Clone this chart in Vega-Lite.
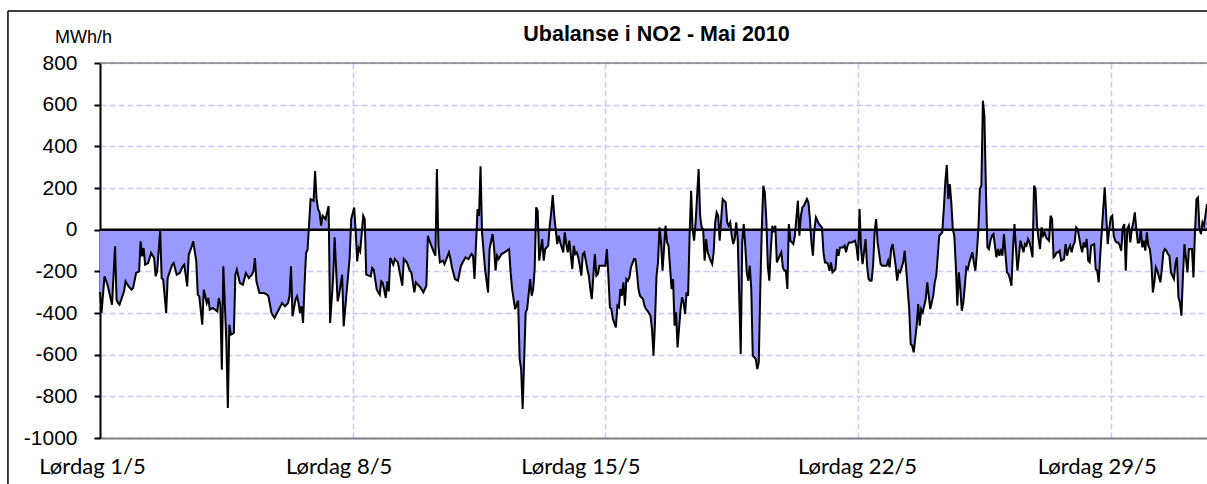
{
"$schema": "https://vega.github.io/schema/vega-lite/v6.json",
"width": 1107,
"height": 375,
"autosize": {"type": "none"},
"padding": {"left": 100, "top": 63, "right": 0, "bottom": 46},
"background": "white",
"config": {"view": {"stroke": null}},
"title": {"text": "Ubalanse i NO2  - Mai 2010", "font": "Liberation Sans", "fontSize": 21.5, "fontWeight": "bold", "color": "black", "anchor": "middle", "frame": "group", "baseline": "middle", "offset": 26, "dy": 72, "dx": 3},
"data": {"values": [
{"h":0,"v":-300},{"h":1,"v":-400},{"h":3,"v":-224},{"h":5,"v":-264},{"h":8,"v":-360},{"h":10,"v":-80},{"h":11,"v":-336},{"h":12,"v":-352},{"h":13,"v":-360},{"h":16,"v":-296},{"h":17,"v":-248},{"h":19,"v":-272},{"h":21,"v":-288},{"h":22,"v":-280},{"h":24,"v":-208},{"h":26,"v":-200},{"h":27,"v":-56},{"h":28,"v":-128},{"h":29,"v":-88},{"h":30,"v":-168},{"h":32,"v":-160},{"h":34,"v":-112},{"h":36,"v":-136},{"h":37,"v":-224},{"h":38,"v":-200},{"h":40,"v":-5},{"h":41,"v":-232},{"h":42,"v":-240},{"h":44,"v":-400},{"h":45,"v":-232},{"h":48,"v":-168},{"h":49,"v":-160},{"h":51,"v":-216},{"h":53,"v":-208},{"h":55,"v":-176},{"h":56,"v":-168},{"h":58,"v":-272},{"h":59,"v":-120},{"h":61,"v":-80},{"h":62,"v":-56},{"h":64,"v":-152},{"h":65,"v":-312},{"h":66,"v":-320},{"h":68,"v":-456},{"h":69,"v":-288},{"h":71,"v":-352},{"h":72,"v":-328},{"h":73,"v":-384},{"h":75,"v":-376},{"h":78,"v":-392},{"h":79,"v":-328},{"h":80,"v":-360},{"h":81,"v":-672},{"h":82,"v":-176},{"h":84,"v":-536},{"h":85,"v":-856},{"h":86,"v":-456},{"h":87,"v":-504},{"h":89,"v":-496},{"h":90,"v":-216},{"h":91,"v":-192},{"h":93,"v":-256},{"h":95,"v":-264},{"h":97,"v":-208},{"h":99,"v":-232},{"h":101,"v":-216},{"h":102,"v":-200},{"h":103,"v":-136},{"h":104,"v":-248},{"h":106,"v":-304},{"h":109,"v":-304},{"h":111,"v":-312},{"h":112,"v":-320},{"h":114,"v":-400},{"h":116,"v":-424},{"h":120,"v":-368},{"h":121,"v":-352},{"h":123,"v":-368},{"h":125,"v":-352},{"h":126,"v":-320},{"h":127,"v":-176},{"h":128,"v":-416},{"h":130,"v":-336},{"h":131,"v":-320},{"h":132,"v":-352},{"h":133,"v":-400},{"h":134,"v":-368},{"h":135,"v":-448},{"h":136,"v":-264},{"h":137,"v":-112},{"h":138,"v":-96},{"h":140,"v":146},{"h":142,"v":138},{"h":143,"v":281},{"h":144,"v":146},{"h":145,"v":98},{"h":146,"v":83},{"h":147,"v":19},{"h":148,"v":67},{"h":150,"v":51},{"h":151,"v":83},{"h":152,"v":114},{"h":153,"v":-448},{"h":155,"v":-232},{"h":156,"v":-37},{"h":158,"v":-344},{"h":159,"v":-312},{"h":161,"v":-216},{"h":162,"v":-464},{"h":164,"v":-296},{"h":166,"v":-136},{"h":167,"v":51},{"h":169,"v":106},{"h":170,"v":-10},{"h":171,"v":-152},{"h":172,"v":-88},{"h":173,"v":-104},{"h":174,"v":-20},{"h":175,"v":67},{"h":176,"v":51},{"h":177,"v":-216},{"h":180,"v":-224},{"h":181,"v":-184},{"h":182,"v":-192},{"h":184,"v":-288},{"h":186,"v":-312},{"h":187,"v":-248},{"h":188,"v":-256},{"h":190,"v":-328},{"h":191,"v":-248},{"h":192,"v":-296},{"h":193,"v":-136},{"h":195,"v":-168},
{"h":196,"v":-141},{"h":198,"v":-157},{"h":201,"v":-269},{"h":202,"v":-141},{"h":204,"v":-157},{"h":206,"v":-197},{"h":207,"v":-205},{"h":209,"v":-301},{"h":210,"v":-253},{"h":213,"v":-277},{"h":215,"v":-301},{"h":217,"v":-269},{"h":218,"v":-29},{"h":219,"v":-53},{"h":222,"v":-109},{"h":223,"v":-125},{"h":224,"v":291},{"h":225,"v":-77},{"h":226,"v":-157},{"h":228,"v":-149},{"h":229,"v":-165},{"h":232,"v":-109},{"h":233,"v":-141},{"h":234,"v":-181},{"h":236,"v":-237},{"h":238,"v":-245},{"h":240,"v":-173},{"h":243,"v":-133},{"h":245,"v":-141},{"h":247,"v":-117},{"h":248,"v":-125},{"h":249,"v":-237},{"h":251,"v":99},{"h":252,"v":67},{"h":253,"v":304},{"h":254,"v":-13},{"h":256,"v":-189},{"h":258,"v":-301},{"h":259,"v":-93},{"h":261,"v":-21},{"h":262,"v":-85},{"h":263,"v":-197},{"h":264,"v":-125},{"h":265,"v":-141},{"h":267,"v":-117},{"h":269,"v":-109},{"h":272,"v":-93},{"h":273,"v":-205},{"h":274,"v":-285},{"h":276,"v":-381},{"h":278,"v":-341},{"h":279,"v":-621},{"h":280,"v":-669},{"h":281,"v":-861},{"h":283,"v":-397},{"h":284,"v":-381},{"h":286,"v":-237},{"h":287,"v":-317},{"h":288,"v":-285},{"h":289,"v":-189},{"h":290,"v":107},{"h":291,"v":91},{"h":292,"v":-149},{"h":294,"v":-45},{"h":295,"v":-149},{"h":296,"v":-93},{"h":297,"v":-85},{"h":298,"v":-77},{"h":299,"v":19},{"h":300,"v":83},{"h":301,"v":166},{"h":302,"v":67},{"h":304,"v":-69},{"h":305,"v":-29},{"h":306,"v":-61},{"h":308,"v":-109},{"h":309,"v":-13},{"h":310,"v":-69},{"h":311,"v":-109},{"h":312,"v":-53},{"h":314,"v":-189},{"h":315,"v":-77},{"h":316,"v":-117},{"h":317,"v":-109},{"h":318,"v":-133},{"h":319,"v":-173},{"h":320,"v":-221},{"h":321,"v":-117},{"h":322,"v":-109},{"h":324,"v":-189},{"h":325,"v":-221},{"h":326,"v":-285},{"h":327,"v":-333},{"h":328,"v":-221},{"h":329,"v":-117},{"h":330,"v":-221},{"h":331,"v":-213},{"h":332,"v":-173},{"h":334,"v":-173},{"h":336,"v":-173},{"h":337,"v":-93},{"h":338,"v":-221},{"h":339,"v":-373},{"h":340,"v":-381},{"h":341,"v":-429},{"h":343,"v":-469},{"h":344,"v":-365},{"h":345,"v":-373},{"h":346,"v":-285},{"h":347,"v":-317},{"h":348,"v":-253},{"h":349,"v":-365},{"h":350,"v":-237},{"h":351,"v":-245},{"h":352,"v":-229},{"h":353,"v":-181},{"h":355,"v":-141},{"h":356,"v":-141},{"h":357,"v":-205},{"h":358,"v":-285},{"h":359,"v":-317},{"h":361,"v":-333},{"h":362,"v":-365},{"h":363,"v":-381},{"h":364,"v":-389},{"h":366,"v":-413},{"h":367,"v":-477},{"h":368,"v":-605},{"h":369,"v":-445},{"h":370,"v":-221},{"h":371,"v":-157},{"h":372,"v":11},{"h":373,"v":-61},{"h":374,"v":-197},{"h":376,"v":19},{"h":377,"v":-61},{"h":378,"v":-77},
{"h":380,"v":-285},{"h":381,"v":-237},{"h":382,"v":-461},{"h":383,"v":-397},{"h":384,"v":-565},{"h":386,"v":-381},{"h":387,"v":-325},{"h":388,"v":-349},{"h":389,"v":-405},{"h":390,"v":-301},{"h":391,"v":-317},{"h":392,"v":-29},{"h":393,"v":187},{"h":394,"v":3},{"h":395,"v":-53},{"h":396,"v":35},{"h":398,"v":291},{"h":399,"v":67},{"h":400,"v":11},{"h":401,"v":3},{"h":402,"v":-149},{"h":403,"v":-45},{"h":404,"v":-109},{"h":406,"v":-149},{"h":407,"v":-165},{"h":408,"v":-109},{"h":409,"v":35},{"h":410,"v":83},{"h":411,"v":67},{"h":412,"v":-53},{"h":413,"v":51},{"h":414,"v":147},{"h":416,"v":131},{"h":417,"v":35},{"h":418,"v":19},{"h":419,"v":35},{"h":420,"v":-29},{"h":421,"v":-69},{"h":422,"v":-45},{"h":423,"v":35},{"h":424,"v":-45},{"h":426,"v":-597},{"h":427,"v":-61},{"h":428,"v":27},{"h":429,"v":-77},{"h":430,"v":-205},{"h":431,"v":-245},{"h":432,"v":-173},{"h":433,"v":-285},{"h":434,"v":-605},{"h":436,"v":-621},{"h":437,"v":-669},{"h":438,"v":-637},{"h":439,"v":-285},{"h":440,"v":3},{"h":441,"v":211},{"h":442,"v":179},{"h":443,"v":51},{"h":444,"v":-173},{"h":445,"v":-245},{"h":446,"v":-93},{"h":447,"v":19},{"h":448,"v":-13},{"h":449,"v":19},{"h":450,"v":-157},{"h":452,"v":-125},{"h":453,"v":-109},{"h":454,"v":-181},{"h":455,"v":-197},{"h":456,"v":-197},{"h":457,"v":-285},{"h":458,"v":27},{"h":459,"v":-53},{"h":460,"v":-61},{"h":461,"v":-69},{"h":462,"v":-29},{"h":464,"v":139},{"h":465,"v":-29},{"h":466,"v":67},{"h":467,"v":107},{"h":468,"v":115},
{"h":470,"v":147},{"h":471,"v":131},{"h":472,"v":51},{"h":473,"v":-61},{"h":474,"v":-125},{"h":475,"v":3},{"h":476,"v":59},{"h":477,"v":43},{"h":478,"v":27},{"h":479,"v":19},{"h":480,"v":11},{"h":481,"v":-109},{"h":482,"v":-157},{"h":483,"v":-157},{"h":484,"v":-165},{"h":485,"v":-197},{"h":486,"v":-157},{"h":487,"v":-205},{"h":488,"v":-197},{"h":489,"v":-189},{"h":490,"v":-93},{"h":491,"v":-125},{"h":492,"v":-85},{"h":494,"v":-85},{"h":495,"v":-77},{"h":496,"v":-109},{"h":497,"v":-77},{"h":498,"v":-61},{"h":500,"v":-61},{"h":502,"v":-53},{"h":503,"v":-85},{"h":504,"v":-149},{"h":505,"v":99},{"h":506,"v":-93},{"h":507,"v":-165},{"h":509,"v":-45},{"h":510,"v":-173},{"h":511,"v":-237},{"h":512,"v":-245},{"h":513,"v":-245},{"h":514,"v":-173},{"h":515,"v":-13},{"h":516,"v":51},{"h":517,"v":-61},{"h":519,"v":-165},{"h":520,"v":-173},{"h":522,"v":-173},{"h":523,"v":-173},{"h":524,"v":-149},{"h":525,"v":-181},{"h":526,"v":-93},{"h":527,"v":-69},{"h":529,"v":-173},{"h":530,"v":-245},{"h":531,"v":-197},{"h":532,"v":-205},{"h":533,"v":-181},{"h":534,"v":-157},{"h":535,"v":-101},{"h":536,"v":-189},{"h":538,"v":-381},{"h":539,"v":-549},{"h":540,"v":-557},{"h":541,"v":-589},{"h":542,"v":-525},{"h":543,"v":-461},{"h":544,"v":-357},{"h":545,"v":-461},{"h":546,"v":-381},{"h":547,"v":-397},{"h":548,"v":-365},{"h":549,"v":-333},{"h":550,"v":-253},{"h":551,"v":-317},{"h":552,"v":-381},{"h":554,"v":-317},{"h":555,"v":-253},{"h":556,"v":-221},{"h":557,"v":-125},{"h":558,"v":-29},
{"h":560,"v":-13},{"h":561,"v":99},{"h":562,"v":227},{"h":563,"v":310},{"h":564,"v":147},{"h":565,"v":219},{"h":566,"v":131},{"h":567,"v":3},{"h":568,"v":-29},{"h":569,"v":-173},{"h":570,"v":-365},{"h":571,"v":-205},{"h":572,"v":-285},{"h":573,"v":-389},{"h":574,"v":-349},{"h":575,"v":-269},{"h":576,"v":-181},{"h":577,"v":-189},{"h":578,"v":-157},{"h":580,"v":-109},{"h":581,"v":-157},{"h":582,"v":-197},{"h":583,"v":-109},{"h":584,"v":3},{"h":585,"v":195},{"h":586,"v":211},{"h":587,"v":619},{"h":588,"v":547},{"h":589,"v":195},{"h":590,"v":-85},{"h":591,"v":-93},{"h":592,"v":-53},{"h":593,"v":-29},{"h":594,"v":-21},{"h":595,"v":-77},{"h":596,"v":-133},{"h":597,"v":-93},{"h":598,"v":-125},{"h":599,"v":-93},{"h":600,"v":-125},{"h":601,"v":-21},{"h":602,"v":-117},{"h":603,"v":-205},{"h":604,"v":-213},{"h":605,"v":-237},{"h":606,"v":-269},{"h":607,"v":-93},{"h":608,"v":27},{"h":609,"v":-93},{"h":610,"v":-197},{"h":611,"v":-125},{"h":612,"v":-53},{"h":614,"v":-109},{"h":615,"v":-69},{"h":616,"v":-77},{"h":617,"v":-45},{"h":618,"v":-61},{"h":619,"v":-93},{"h":620,"v":-133},{"h":621,"v":211},{"h":622,"v":195},{"h":623,"v":19},{"h":624,"v":-45},{"h":625,"v":-93},{"h":626,"v":11},{"h":627,"v":-29},{"h":628,"v":-13},{"h":629,"v":-37},{"h":631,"v":-53},{"h":632,"v":67},{"h":633,"v":51},{"h":634,"v":-133},{"h":635,"v":-125},{"h":636,"v":-109},{"h":637,"v":-109},{"h":638,"v":-101},{"h":639,"v":-149},{"h":641,"v":-141},{"h":642,"v":-69},{"h":643,"v":-125},{"h":644,"v":-93},{"h":645,"v":-77},
{"h":646,"v":-109},{"h":647,"v":-77},{"h":648,"v":-61},{"h":649,"v":11},{"h":650,"v":3},{"h":652,"v":-77},{"h":653,"v":-109},{"h":654,"v":-61},{"h":655,"v":-85},{"h":656,"v":-45},{"h":657,"v":-149},{"h":658,"v":-157},{"h":659,"v":-77},{"h":661,"v":-69},{"h":662,"v":-189},{"h":663,"v":-197},{"h":664,"v":-253},{"h":665,"v":-125},{"h":666,"v":-13},{"h":667,"v":99},{"h":668,"v":203},{"h":669,"v":67},{"h":670,"v":-69},{"h":671,"v":3},{"h":672,"v":59},{"h":673,"v":67},{"h":674,"v":-29},{"h":675,"v":-53},{"h":676,"v":-61},{"h":677,"v":-61},{"h":678,"v":-77},{"h":679,"v":-101},{"h":680,"v":11},{"h":681,"v":27},{"h":682,"v":-197},{"h":683,"v":3},{"h":684,"v":19},{"h":685,"v":-61},{"h":686,"v":3},{"h":687,"v":35},{"h":688,"v":83},{"h":689,"v":3},{"h":690,"v":-61},{"h":691,"v":-61},{"h":692,"v":3},{"h":693,"v":-85},{"h":694,"v":-53},{"h":695,"v":-101},{"h":696,"v":-13},{"h":697,"v":-77},{"h":698,"v":-93},{"h":699,"v":-157},{"h":700,"v":-301},{"h":701,"v":-253},{"h":702,"v":-181},{"h":703,"v":-197},{"h":705,"v":-253},{"h":706,"v":-189},{"h":707,"v":-109},{"h":708,"v":-93},{"h":709,"v":-101},{"h":710,"v":-117},{"h":711,"v":-125},{"h":712,"v":-205},{"h":714,"v":-237},{"h":715,"v":-165},{"h":716,"v":-133},{"h":717,"v":-325},{"h":718,"v":-349},{"h":719,"v":-413},{"h":720,"v":-221},{"h":721,"v":-69},{"h":723,"v":-205},{"h":724,"v":-93},{"h":725,"v":-93},{"h":726,"v":-93},{"h":727,"v":-229},{"h":728,"v":-13},{"h":729,"v":147},{"h":730,"v":155},{"h":731,"v":3},{"h":732,"v":-21},{"h":733,"v":35},{"h":734,"v":19},{"h":736,"v":123}
]},
"layer": [
{
 "mark": {"type": "area", "color": "#9999FF", "opacity": 1},
 "encoding": {
  "x": {"field": "h", "type": "quantitative", "scale": {"domain": [0, 736], "nice": false, "zero": false},
   "axis": {"title": null, "values": [0, 168, 336, 504, 672],
    "labelExpr": "datum.value == 0 ? 'Lørdag 1/5' : datum.value == 168 ? 'Lørdag 8/5' : datum.value == 336 ? 'Lørdag 15/5' : datum.value == 504 ? 'Lørdag 22/5' : 'Lørdag 29/5'",
    "labelFont": "Lato", "labelFontSize": 22, "labelColor": "black", "labelBaseline": "middle", "labelPadding": 28,
    "labelOffset": {"condition": [{"test": "datum.value == 0", "value": -8}, {"test": "datum.value == 336", "value": -25}, {"test": "datum.value == 504", "value": -1}], "value": -14},
    "labelFlush": false, "labelOverlap": false, "ticks": false, "tickSize": 0,
    "domainColor": "#808080", "domainWidth": 2,
    "grid": true, "gridColor": "#C8C8FF", "gridDash": [6, 3], "gridWidth": 1.5}},
  "y": {"field": "v", "type": "quantitative", "scale": {"domain": [-1000, 800], "nice": false},
   "axis": {"title": "MWh/h", "titleAngle": 0, "titleFont": "Liberation Sans", "titleFontSize": 18, "titleFontWeight": "normal", "titleColor": "black", "titleX": -17, "titleY": -26, "titleAlign": "center", "titleBaseline": "middle",
    "values": [-1000, -800, -600, -400, -200, 0, 200, 400, 600, 800],
    "labelExpr": "'' + datum.value",
    "labelFont": "Liberation Sans", "labelFontSize": 21, "labelColor": "black", "labelPadding": 17, "labelFlush": false, "labelOverlap": false,
    "tickColor": "black", "tickWidth": 2, "tickSize": 6,
    "domainColor": "black", "domainWidth": 2,
    "grid": true, "gridColor": "#C8C8FF", "gridDash": [6, 3], "gridWidth": 1.5}}
 }
},
{
 "mark": {"type": "line", "color": "black", "strokeWidth": 2},
 "encoding": {"x": {"field": "h", "type": "quantitative"}, "y": {"field": "v", "type": "quantitative"}}
},
{
 "data": {"values": [{}]},
 "mark": {"type": "rule", "color": "black", "strokeWidth": 2.5},
 "encoding": {"y": {"datum": 0, "type": "quantitative"}}
},
{
 "data": {"values": [{}]},
 "mark": {"type": "rule", "color": "#808080", "strokeWidth": 1.5},
 "encoding": {"y": {"datum": 800, "type": "quantitative"}}
},
{
 "data": {"values": [{}]},
 "mark": {"type": "rule", "color": "black", "strokeWidth": 1.5},
 "encoding": {"x": {"datum": -61.2, "type": "quantitative"}, "y": {"datum": 1049.6, "type": "quantitative"}, "y2": {"datum": -1300}}
},
{
 "data": {"values": [{}]},
 "mark": {"type": "rule", "color": "black", "strokeWidth": 1.5},
 "encoding": {"y": {"datum": 1049.6, "type": "quantitative"}, "x": {"datum": -61.2, "type": "quantitative"}, "x2": {"datum": 800}}
}
]
}
